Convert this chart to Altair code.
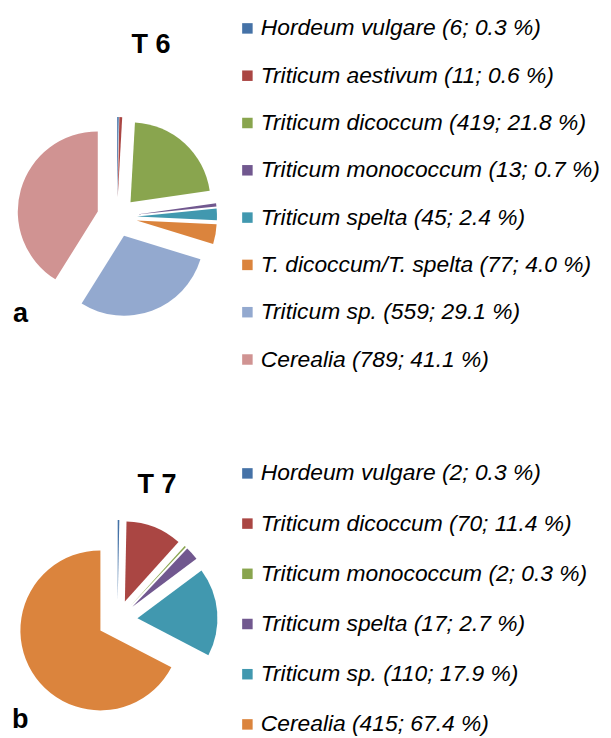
import altair as alt
import pandas as pd

# ---- data ----
t6_names = ["Hordeum vulgare", "Triticum aestivum", "Triticum dicoccum",
            "Triticum monococcum", "Triticum spelta", "T. dicoccum/T. spelta",
            "Triticum sp.", "Cerealia"]
t6_counts = [6, 11, 419, 13, 45, 77, 559, 789]
t6_pcts = [0.3, 0.6, 21.8, 0.7, 2.4, 4.0, 29.1, 41.1]
t6_colors = ["#4572A7", "#AA4643", "#89A54E", "#71588F", "#4198AF",
             "#DB843D", "#93A9CF", "#D09392"]

t7_names = ["Hordeum vulgare", "Triticum dicoccum", "Triticum monococcum",
            "Triticum spelta", "Triticum sp.", "Cerealia"]
t7_counts = [2, 70, 2, 17, 110, 415]
t7_pcts = [0.3, 11.4, 0.3, 2.7, 17.9, 67.4]
t7_colors = ["#4572A7", "#AA4643", "#89A54E", "#71588F", "#4198AF", "#DB843D"]

titles = ["T 6", "T 7"]
panel_letters = ["a", "b"]

FONT = "Liberation Sans"


def make_df(names, counts, pcts, field):
    labels = [f"{n} ({c}; {p:.1f} %)" for n, c, p in zip(names, counts, pcts)]
    return pd.DataFrame({field: labels, "count": counts,
                         "order": list(range(len(names)))}), labels


def pie(df, labels, colors, field, cx, cy, legend_x, legend_y, row_pad):
    explode = 20
    return (
        alt.Chart(df)
        .transform_joinaggregate(total="sum(count)")
        .transform_window(cum="sum(count)", sort=[alt.SortField("order")],
                          frame=[None, 0])
        .transform_calculate(
            t0="(datum.cum - datum.count) / datum.total * 2 * PI",
            t1="datum.cum / datum.total * 2 * PI",
        )
        .transform_calculate(mid="(datum.t0 + datum.t1) / 2")
        .transform_calculate(
            px=f"{cx} + {explode} * sin(datum.mid)",
            py=f"{cy} - {explode} * cos(datum.mid)",
        )
        .mark_arc(radius=80)
        .encode(
            theta=alt.Theta("t0:Q", scale=None),
            theta2="t1:Q",
            x=alt.X("px:Q", scale=None),
            y=alt.Y("py:Q", scale=None),
            color=alt.Color(
                f"{field}:N",
                sort=labels,
                scale=alt.Scale(domain=labels, range=colors),
                legend=alt.Legend(
                    title=None, orient="none", legendX=legend_x,
                    legendY=legend_y, symbolType="square", symbolSize=110,
                    symbolStrokeWidth=0, labelFont=FONT, labelFontSize=22.8,
                    labelFontStyle="italic", labelColor="#000000",
                    labelOffset=2, rowPadding=row_pad, padding=0,
                    labelLimit=400,
                ),
            ),
            order=alt.Order("order:Q"),
        )
    )


df6, lab6 = make_df(t6_names, t6_counts, t6_pcts, "label6")
df7, lab7 = make_df(t7_names, t7_counts, t7_pcts, "label7")

pie6 = pie(df6, lab6, t6_colors, "label6", 109, 209, 228, 9, 23.3)
pie7 = pie(df7, lab7, t7_colors, "label7", 109.5, 612, 228, 454, 26.2)

txt_df = pd.DataFrame({"d": [0]})


def label(text, x, y, align, size):
    return alt.Chart(txt_df).mark_text(
        text=text, font=FONT, fontSize=size, fontWeight="bold",
        align=align, baseline="alphabetic", color="#000000",
    ).encode(x=alt.value(x), y=alt.value(y))


chart = (
    alt.layer(
        pie6, pie7,
        label(titles[0], 143, 45, "center", 27),
        label(titles[1], 149, 485, "center", 27),
        label(panel_letters[0], 5, 314, "left", 27),
        label(panel_letters[1], 4, 720, "left", 27),
    )
    .resolve_scale(color="independent")
    .properties(width=595, height=729, autosize=alt.AutoSizeParams(type="none"),
                padding=0, background="white")
    .configure_view(stroke=None)
)

chart.save("out.html", embed_options={"renderer": "svg", "actions": False})
